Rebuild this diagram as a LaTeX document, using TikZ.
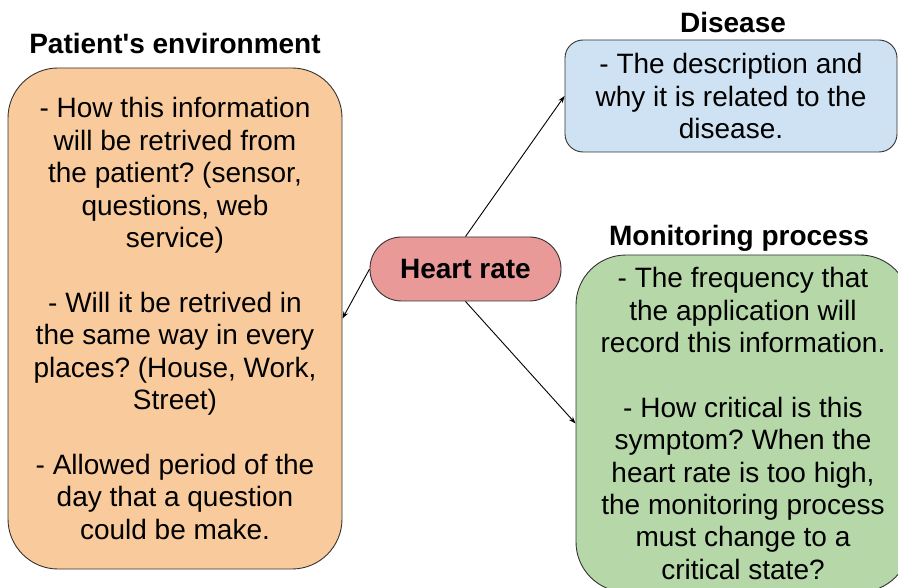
\documentclass[tikz,border=0pt]{standalone}
\usepackage{fontspec}
\setmainfont{Liberation Sans}
\usetikzlibrary{arrows.meta}
\definecolor{envfill}{HTML}{F9CB9C}
\definecolor{disfill}{HTML}{CFE2F3}
\definecolor{monfill}{HTML}{B6D7A8}
\definecolor{hrfill}{HTML}{EA9999}
\definecolor{edge}{HTML}{333333}
\frenchspacing
\begin{document}
\begin{tikzpicture}[x=1pt,y=-1pt,
  box/.style={draw=edge, line width=0.9pt, align=center, inner sep=0pt,
    font=\fontsize{28}{32.4}\selectfont\frenchspacing},
  title/.style={font=\fontsize{28}{30}\selectfont\bfseries, inner sep=0pt},
  conn/.style={draw=black, line width=0.9pt, -{Stealth[length=7pt,width=5pt]}}]
\useasboundingbox (0,0) rectangle (898,588);
\clip (0,0) rectangle (898,588);
\node[box, fill=envfill, rounded corners=50pt, minimum width=334pt, minimum height=501pt] (env) at (175,318.5)
 {- How this information\\will be retrived from\\the patient? (sensor,\\questions, web\\service)\\[32.4pt]
  - Will it be retrived in\\the same way in every\\places? (House, Work,\\Street)\\[32.4pt]
  - Allowed period of the\\day that a question\\could be make.};
\node[box, fill=disfill, rounded corners=18pt, minimum width=332pt, minimum height=112pt] (dis) at (731,96)
 {- The description and\\why it is related to the\\disease.};
\node[box, fill=monfill, rounded corners=50pt, minimum width=334pt, minimum height=337pt] (mon) at (743,423.5)
 {- The frequency that\\the application will\\record this information.\\[32.4pt]
  - How critical is this\\symptom? When the\\heart rate is too high,\\the monitoring process\\must change to a\\critical state?};
\node[box, fill=hrfill, rounded corners=31.5pt, minimum width=191pt, minimum height=64pt, font=\fontsize{28}{30}\selectfont\bfseries] (hr) at (465.5,269) {Heart rate};
\node[title] (envt) at (175,43) {Patient\textquotesingle s environment};
\node[title] (dist) at (733,22) {Disease};
\node[title] (mont) at (739,238) {Monitoring process};
\draw[conn] (hr.north) -- (dis.west);
\draw[conn] (hr.west) -- (env.east);
\draw[conn] (hr.south) -- (mon.west);
\end{tikzpicture}
\end{document}
